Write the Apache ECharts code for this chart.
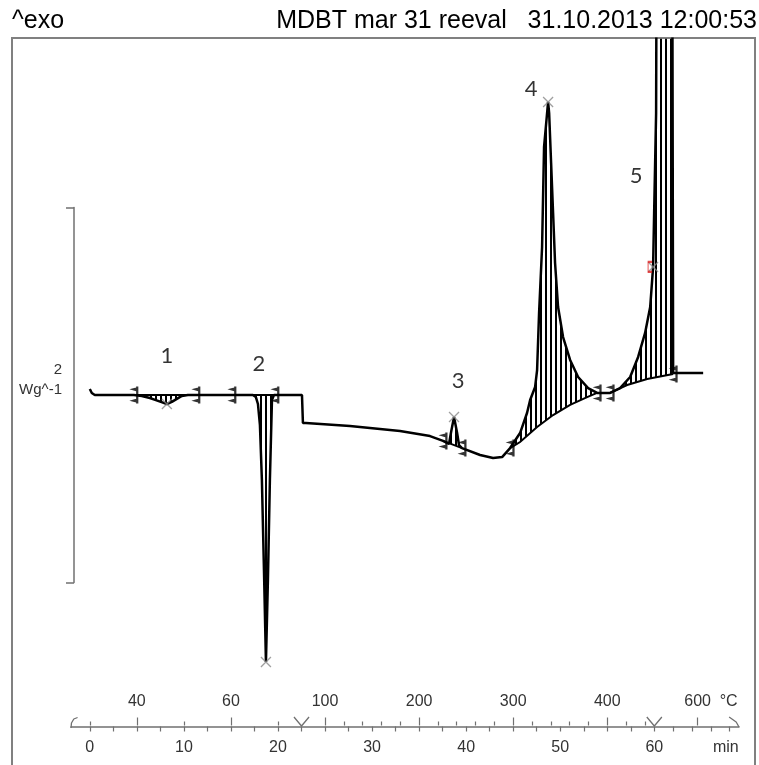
<!DOCTYPE html>
<html>
<head>
<meta charset="utf-8">
<script src="https://cdn.jsdelivr.net/npm/echarts@6/dist/echarts.min.js"></script>
<style>
html, body { margin: 0; padding: 0; background: #fff; }
#chart { width: 759px; height: 765px; }
</style>
</head>
<body>
<div id="chart"></div>
<script>
// DSC curve, time in min, heat flow in W/g (0 = starting baseline)
const curveT = [0, 0.21, 0.53, 4.68, 5.53, 6.38, 7.02, 7.55, 8.19, 8.72, 9.25, 9.78, 10.42,
	17.33, 17.65, 17.87, 18.08, 18.29, 18.51, 18.72, 18.93, 19.14, 19.36, 19.57,
	22.55, 22.65, 22.97, 27.65, 32.97, 36.16, 37.54, 38.18, 38.39, 38.71, 39.03, 39.24, 39.56,
	41.48, 42.86, 43.82, 44.67, 45.73, 46.47, 46.80, 47.33, 47.54, 47.75, 48.07, 48.28, 48.71,
	48.82, 49.03, 49.24, 49.45, 49.77, 50.30, 51.05, 51.90, 52.96, 53.92,
	55.30, 56.36, 57.43, 58.28, 59.02, 59.56, 59.77, 59.87, 59.98, 60.19, 60.25, 61.9, 62.0, 65.19];
const curveW = [0.032, 0.011, 0, 0, -0.005, -0.016, -0.027, -0.037, -0.048, -0.037, -0.021, -0.005, 0,
	0, -0.011, -0.048, -0.16, -0.453, -0.933, -1.424, -0.987, -0.453, -0.027, 0,
	0, -0.149, -0.149, -0.165, -0.192, -0.219, -0.245, -0.261, -0.2, -0.117, -0.2, -0.267, -0.283,
	-0.32, -0.336, -0.331, -0.283, -0.203, -0.096, -0.027, 0.043, 0.133, 0.437, 0.789, 1.323, 1.563,
	1.504, 1.237, 0.971, 0.704, 0.469, 0.309, 0.187, 0.096, 0.037, 0.011,
	0.011, 0.037, 0.096, 0.203, 0.331, 0.469, 0.613, 0.683, 0.971, 1.504, 2.6, 2.6, 0.117, 0.117];

// integration baselines of the five peaks
const baseT = [
	[4.68, 10.42],
	[17.33, 19.57],
	[37.54, 39.56],
	[44.67, 45.73, 47.54, 49.24, 51.05, 52.86, 53.92],
	[55.30, 57.11, 59.24, 62.0]
];
const baseW = [
	[0, 0],
	[0, 0],
	[-0.245, -0.283],
	[-0.283, -0.251, -0.171, -0.107, -0.053, -0.011, 0.011],
	[0.011, 0.053, 0.085, 0.112]
];

// integration limit marks
const limitT = [4.68, 11.27, 15.1, 19.67, 37.54, 39.56, 44.67, 53.92, 55.30, 62.0];
const limitW = [0, 0, 0, 0, -0.245, -0.283, -0.283, 0.011, 0.011, 0.112];

// peak maxima
const topT = [8.19, 18.72, 38.71, 48.71, 59.87];
const topW = [-0.048, -1.424, -0.117, 1.563, 0.683];

// peak numbers
const peakNames = ['1', '2', '3', '4', '5'];
const peakNameT = [8.19, 17.97, 39.14, 46.9, 58.07];
const peakNameW = [0.208, 0.165, 0.075, 1.632, 1.168];

// axes
const timeLabels = [0, 10, 20, 30, 40, 50, 60];
const tempLabels = ['40', '60', '100', '200', '300', '400', '600'];
const tempLabelT = [5, 15, 25, 35, 45, 55, 64.6];
const tempMinorT = [0, 10, 20, 27, 29, 31, 33, 37, 39, 41, 43, 47, 49, 51, 53, 57, 59];
const segmentT = [22.5, 60];

const timeTicks = [];
for (let t = 0; t <= 60; t += 2.5) timeTicks.push(t);
timeTicks.push(62, 64, 66, 68);

const curve = curveT.map((t, i) => [t, curveW[i]]);

const hatch = document.createElement('canvas');
hatch.width = 5;
hatch.height = 10;
const hctx = hatch.getContext('2d');
hctx.fillStyle = '#000';
hctx.fillRect(0, 0, 2, 10);

const myChart = echarts.init(document.getElementById('chart'));

const axisColor = '#707070';
const textColor = '#333';
const font = 'Liberation Sans';

myChart.setOption({
	animation: false,
	title: [
		{
			text: '^exo',
			left: 12,
			top: 9,
			padding: 0,
			textStyle: { fontFamily: font, fontSize: 25, fontWeight: 'normal', color: '#000' }
		},
		{
			text: 'MDBT mar 31 reeval   31.10.2013 12:00:53',
			right: 2,
			top: 9,
			padding: 0,
			textStyle: { fontFamily: font, fontSize: 25, fontWeight: 'normal', color: '#000' }
		}
	],
	grid: [
		{ left: 71, right: 20, top: 38.75, height: 656.25, outerBoundsMode: 'none' },
		{ left: 74, width: 20, top: 207.5, height: 375, outerBoundsMode: 'none' },
		{ left: 12, right: 4, top: 38, bottom: -20, show: true, borderColor: '#808080', borderWidth: 2, outerBoundsMode: 'none' },
		// thin strip holding the time / temperature axis line at y = 726
		{ left: 71, right: 20, top: 725.5, height: 1, outerBoundsMode: 'none' }
	],
	xAxis: [
		{ gridIndex: 0, type: 'value', min: -2, max: 69, show: false },
		{ gridIndex: 1, type: 'value', show: false },
		{ gridIndex: 2, type: 'value', show: false },
		{
			// time axis
			gridIndex: 3,
			type: 'value',
			min: -2,
			max: 69,
			position: 'bottom',
			axisLine: { onZero: false, lineStyle: { color: axisColor, width: 1.5 } },
			axisTick: { customValues: timeTicks, length: 5, lineStyle: { color: axisColor, width: 1.2 } },
			axisLabel: {
				customValues: timeLabels.concat([67.6]),
				formatter: v => (v > 65 ? 'min' : String(v)),
				margin: 13,
				fontFamily: font,
				fontSize: 16,
				color: textColor
			},
			splitLine: { show: false }
		},
		{
			// temperature labels
			gridIndex: 3,
			type: 'value',
			min: -2,
			max: 69,
			position: 'top',
			axisLine: { show: false, onZero: false },
			axisTick: { customValues: tempLabelT, length: 8, lineStyle: { color: axisColor, width: 1.2 } },
			axisLabel: {
				customValues: tempLabelT.concat([67.9]),
				formatter: v => {
					const i = tempLabelT.indexOf(v);
					return i >= 0 ? tempLabels[i] : '°C';
				},
				margin: 16,
				fontFamily: font,
				fontSize: 16,
				color: textColor
			},
			splitLine: { show: false }
		},
		{
			// temperature minor ticks
			gridIndex: 3,
			type: 'value',
			min: -2,
			max: 69,
			position: 'top',
			axisLine: { show: false, onZero: false },
			axisTick: { customValues: tempMinorT, length: 4, lineStyle: { color: axisColor, width: 1.2 } },
			axisLabel: { show: false },
			splitLine: { show: false }
		}
	],
	yAxis: [
		{ gridIndex: 0, type: 'value', min: -1.6, max: 1.9, show: false },
		{
			// 2 W/g scale bar
			gridIndex: 1,
			type: 'value',
			min: -1,
			max: 1,
			position: 'left',
			axisLine: { show: true, lineStyle: { color: axisColor, width: 1.5 } },
			axisTick: { show: true, customValues: [-1, 1], length: 8, lineStyle: { color: axisColor, width: 1.5 } },
			axisLabel: {
				customValues: [0.08],
				formatter: () => '2\nWg^-1',
				margin: 12,
				fontFamily: font,
				fontSize: 15,
				lineHeight: 20,
				color: textColor
			},
			splitLine: { show: false }
		},
		{ gridIndex: 2, type: 'value', show: false },
		{ gridIndex: 3, type: 'value', min: -0.5, max: 0.5, show: false }
	],
	series: [
		{
			// hatched peak areas and their baselines
			type: 'custom',
			xAxisIndex: 0,
			yAxisIndex: 0,
			clip: true,
			z: 3,
			data: baseT.map((b, i) => [b[0], i]),
			renderItem: function(params, api) {
				const i = params.dataIndex;
				const bt = baseT[i];
				const from = bt[0];
				const to = bt[bt.length - 1];
				const base = bt.map((t, k) => [t, baseW[i][k]]);
				const upper = curve.filter(d => d[0] >= from && d[0] <= to);
				const pts = upper.concat(base.slice().reverse()).map(d => api.coord(d));
				return {
					type: 'group',
					children: [
						{
							type: 'polygon',
							shape: { points: pts },
							style: { fill: { type: 'pattern', image: hatch, repeat: 'repeat' }, stroke: null }
						},
						{
							type: 'polyline',
							shape: { points: base.map(d => api.coord(d)) },
							style: { stroke: '#000', lineWidth: 2, fill: null }
						}
					]
				};
			}
		},
		{
			name: 'DSC',
			type: 'line',
			xAxisIndex: 0,
			yAxisIndex: 0,
			data: curve,
			showSymbol: false,
			clip: true,
			z: 5,
			lineStyle: { color: '#000', width: 2.5 }
		},
		{
			// limit marks
			type: 'scatter',
			xAxisIndex: 0,
			yAxisIndex: 0,
			z: 6,
			symbol: 'path://M4.5,0h1v18h-1z M4.5,1 L1.5,3 L4.5,5z M4.5,13 L1.5,15 L4.5,17z',
			symbolSize: [9, 17],
			itemStyle: { color: '#000' },
			data: limitT.map((t, i) => [t, limitW[i]])
		},
		{
			// peak maxima
			type: 'scatter',
			xAxisIndex: 0,
			yAxisIndex: 0,
			z: 6,
			symbol: 'path://M0,0L10,10M10,0L0,10',
			symbolSize: 10,
			itemStyle: { color: 'none', borderColor: '#888', borderWidth: 1.3 },
			data: topT.map((t, i) => [t, topW[i]])
		},
		{
			type: 'scatter',
			xAxisIndex: 0,
			yAxisIndex: 0,
			z: 7,
			symbol: 'path://M4,0L0,0L0,10L4,10',
			symbolSize: [4, 10],
			symbolOffset: [-3, 0],
			itemStyle: { color: 'none', borderColor: '#e02020', borderWidth: 1.5 },
			data: [[topT[4], topW[4]]]
		},
		{
			// peak numbers
			type: 'scatter',
			xAxisIndex: 0,
			yAxisIndex: 0,
			symbolSize: 0,
			z: 6,
			label: {
				show: true,
				position: 'inside',
				formatter: p => p.value[2],
				fontFamily: 'Lato',
				fontSize: 22,
				color: '#000'
			},
			data: peakNameT.map((t, i) => [t, peakNameW[i], peakNames[i]])
		},
		{
			// axis end curls and segment marks (y in px above the axis line)
			type: 'line',
			xAxisIndex: 3,
			yAxisIndex: 3,
			showSymbol: false,
			clip: false,
			connectNulls: false,
			lineStyle: { color: axisColor, width: 1.3 },
			data: [
				[-2, -2], [-1.95, 3], [-1.7, 7], [-1.3, 8.5], ['-', '-'],
				[segmentT[0] - 0.8, 9], [segmentT[0], 0], [segmentT[0] + 0.8, 9], ['-', '-'],
				[segmentT[1] - 0.8, 9], [segmentT[1], 0], [segmentT[1] + 0.8, 9], ['-', '-'],
				[67.95, 9], [68.7, 4], [69, -1]
			]
		}
	]
});
</script>
</body>
</html>
